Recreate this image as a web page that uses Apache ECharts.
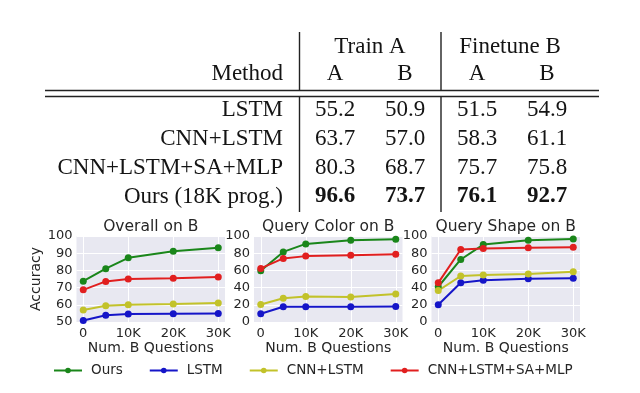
<!DOCTYPE html>
<html><head><meta charset="utf-8">
<script src="https://cdn.jsdelivr.net/npm/echarts@6/dist/echarts.min.js"></script>
<style>html,body{margin:0;padding:0;background:#fff}#c{width:640px;height:393px}</style>
</head><body><div id="c"></div>
<script>
// ---- Table data ----
const methods = ['LSTM', 'CNN+LSTM', 'CNN+LSTM+SA+MLP', 'Ours (18K prog.)'];
const groupHeaders = ['Train A', 'Finetune B'];
const subHeaders = ['A', 'B', 'A', 'B'];
const trainA_A = [55.2, 63.7, 80.3, 96.6];
const trainA_B = [50.9, 57.0, 68.7, 73.7];
const finetuneB_A = [51.5, 58.3, 75.7, 76.1];
const finetuneB_B = [54.9, 61.1, 75.8, 92.7];

// ---- Chart data ----
const xValues = [0, 5000, 10000, 20000, 30000];
const xTicks = [0, 10000, 20000, 30000];
const xTickLabels = ['0', '10K', '20K', '30K'];
const seriesNames = ['Ours', 'LSTM', 'CNN+LSTM', 'CNN+LSTM+SA+MLP'];
const panelTitles = ['Overall on B', 'Query Color on B', 'Query Shape on B'];

const overallOurs = [73.7, 81.0, 87.3, 91.2, 93.2];
const overallLSTM = [50.9, 53.9, 54.6, 54.8, 54.9];
const overallCNNLSTM = [57.0, 59.4, 60.1, 60.5, 61.1];
const overallSAMLP = [68.7, 73.6, 75.0, 75.5, 76.1];

const colorOurs = [59.6, 81.5, 90.8, 95.0, 96.2];
const colorLSTM = [9.6, 17.7, 17.7, 17.7, 18.0];
const colorCNNLSTM = [20.3, 27.7, 29.6, 29.2, 32.7];
const colorSAMLP = [62.3, 73.9, 76.6, 77.7, 78.9];

const shapeOurs = [41.0, 72.7, 90.0, 95.0, 96.5];
const shapeLSTM = [20.0, 45.7, 48.5, 50.4, 51.0];
const shapeCNNLSTM = [36.5, 53.5, 54.6, 55.8, 58.4];
const shapeSAMLP = [45.5, 84.3, 85.4, 86.2, 87.0];

const panels = [
  [overallOurs, overallLSTM, overallCNNLSTM, overallSAMLP],
  [colorOurs, colorLSTM, colorCNNLSTM, colorSAMLP],
  [shapeOurs, shapeLSTM, shapeCNNLSTM, shapeSAMLP]
];
const yRanges = [[50, 100, 10], [0, 100, 20], [0, 100, 20]];

// ---- Styles / layout ----
const colors = ['#1a861a', '#1515c8', '#c2c22a', '#e11f1f'];
const ink = '#262626';
const sans = 'DejaVu Sans';
const gridLefts = [76.5, 254, 431.5];
const gridW = 148.5, gridTop = 236, gridH = 86;

const chart = echarts.init(document.getElementById('c'), null, {renderer: 'canvas'});

const grids = gridLefts.map(l => ({left: l, top: gridTop, width: gridW, height: gridH,
  show: true, backgroundColor: '#e8e8f1', borderWidth: 0}));

const xAxes = gridLefts.map((l, i) => ({
  type: 'value', gridIndex: i, min: -1500, max: 31500,
  name: 'Num. B Questions', nameLocation: 'middle', nameGap: 19,
  nameTextStyle: {fontFamily: sans, fontSize: 14, color: ink},
  axisLine: {show: false, onZero: false}, axisTick: {show: false, customValues: xTicks},
  axisLabel: {customValues: xTicks, margin: 5, fontFamily: sans, fontSize: 13, color: ink,
    formatter: v => xTickLabels[xTicks.indexOf(v)]},
  splitLine: {show: true, lineStyle: {color: '#ffffff', width: 1}}
}));

const yAxes = yRanges.map((r, i) => ({
  type: 'value', gridIndex: i, min: r[0], max: r[1], interval: r[2],
  name: i === 0 ? 'Accuracy' : '', nameLocation: 'middle', nameGap: 29,
  nameTextStyle: {fontFamily: sans, fontSize: 14, color: ink},
  axisLine: {show: false, onZero: false}, axisTick: {show: false},
  axisLabel: {margin: 4, fontFamily: sans, fontSize: 13, color: ink},
  splitLine: {show: true, lineStyle: {color: '#ffffff', width: 1}}
}));

const series = [];
panels.forEach((p, i) => {
  p.forEach((vals, j) => {
    series.push({
      type: 'line', name: seriesNames[j], xAxisIndex: i, yAxisIndex: i,
      data: xValues.map((x, k) => [x, vals[k]]),
      symbol: 'circle', symbolSize: 7, clip: false,
      lineStyle: {width: 2, color: colors[j]}, itemStyle: {color: colors[j]},
      emphasis: {disabled: true}, animation: false
    });
  });
});

const titles = panelTitles.map((t, i) => ({
  text: t, left: gridLefts[i] + gridW / 2, top: 219, textAlign: 'center', padding: 0,
  textStyle: {fontFamily: sans, fontSize: 15.5, fontWeight: 'normal', color: ink}
}));

// ---- Table as graphic elements ----
const serif = '"Liberation Serif", "Times New Roman", serif';
const colX = [335, 405, 477, 547];
const groupX = [370, 510];
const rowY = [109.5, 138.5, 167.5, 196.5];
const tableFill = '#141414';
const g = [];
function txt(text, x, y, align, bold) {
  g.push({type: 'text', x: x, y: y, silent: true,
    style: {text: text, fill: tableFill, font: (bold ? 'bold ' : '') + '23px ' + serif,
      align: align, verticalAlign: 'middle'}});
}
groupHeaders.forEach((h, i) => txt(h, groupX[i], 46.5, 'center'));
txt('Method', 283, 74, 'right');
subHeaders.forEach((h, i) => txt(h, colX[i], 74, 'center'));
const cols = [trainA_A, trainA_B, finetuneB_A, finetuneB_B];
methods.forEach((m, r) => {
  const bold = r === methods.length - 1;
  txt(m, 283, rowY[r], 'right', false);
  cols.forEach((c, ci) => txt(c[r].toFixed(1), colX[ci], rowY[r], 'center', bold));
});
function ln(x1, y1, x2, y2) {
  g.push({type: 'line', silent: true, shape: {x1, y1, x2, y2},
    style: {stroke: '#222', lineWidth: 1.4}});
}
ln(45, 90.5, 599, 90.5);
ln(45, 96.5, 599, 96.5);
[299.5, 441].forEach(x => { ln(x, 32, x, 90.5); ln(x, 96.5, x, 212); });

chart.setOption({
  animation: false,
  backgroundColor: '#ffffff',
  title: titles,
  grid: grids,
  xAxis: xAxes,
  yAxis: yAxes,
  legend: {
    data: seriesNames, left: 53, top: 363.5, padding: 0, itemGap: 26,
    itemWidth: 28, itemHeight: 7,
    textStyle: {fontFamily: sans, fontSize: 13.5, color: ink, padding: [0, 0, 0, 4]}
  },
  graphic: g,
  series: series
});
</script>
</body></html>
